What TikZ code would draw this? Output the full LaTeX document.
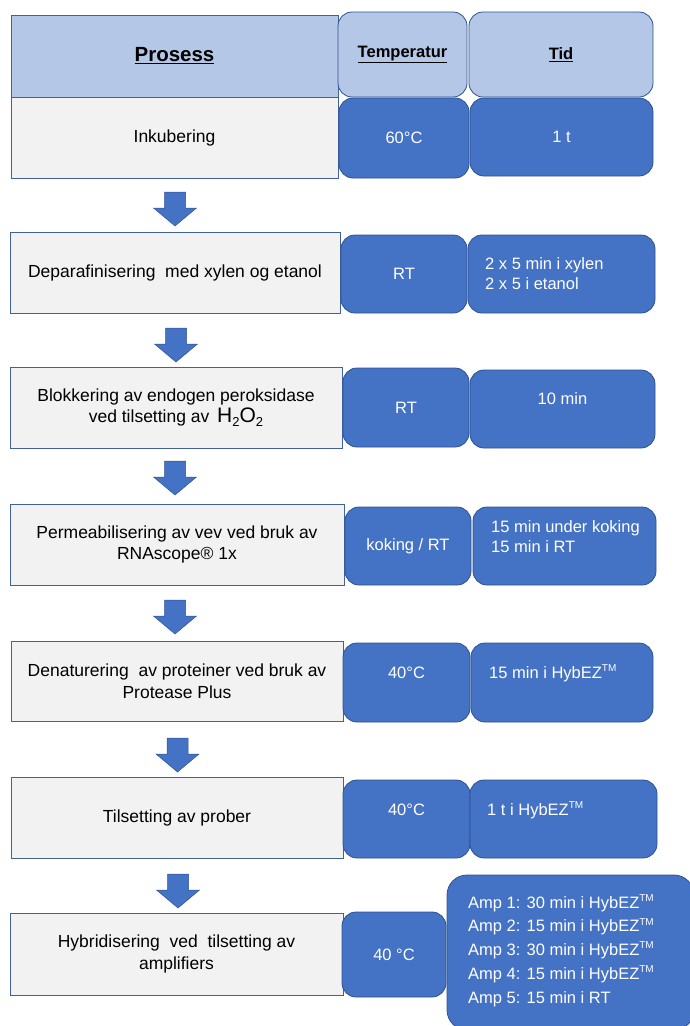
\documentclass[tikz,border=0pt]{standalone}
\usepackage{fontspec}
\setmainfont{Liberation Sans}
\definecolor{blueF}{HTML}{4472C4}
\definecolor{blueB}{HTML}{2F528F}
\definecolor{headF}{HTML}{B4C7E7}
\definecolor{greyF}{HTML}{F2F2F2}
\definecolor{greyB}{HTML}{41619B}
\newcommand{\tmark}{\raisebox{0.75ex}{\fontsize{10}{10}\selectfont TM}}
\newcommand{\subtwo}{\raisebox{-0.35ex}{\fontsize{13}{13}\selectfont 2}}
\begin{document}
\begin{tikzpicture}[x=1pt,y=-1pt,
  box/.style={anchor=north west, inner sep=0pt, outer sep=0pt, line width=0.8pt},
  proc/.style={box, draw=greyB, fill=greyF, align=center, font=\fontsize{17.5}{21.5}\selectfont},
  headproc/.style={box, draw=greyB, fill=headF},
  headrnd/.style={box, draw=blueB, fill=headF, rounded corners=14pt},
  bluebox/.style={box, draw=blueB, fill=blueF, rounded corners=14pt, text=white, font=\fontsize{16.5}{20}\selectfont},
  wtext/.style={text=white, inner sep=0pt, align=left, font=\fontsize{16.5}{20}\selectfont},
  barrow/.pic={\filldraw[fill=blueF, draw=blueB, line width=0.5pt]
     (-10.5,0) -- (10.5,0) -- (10.5,16) -- (21.5,16) -- (0,34) -- (-21.5,16) -- (-10.5,16) -- cycle;}
]
\useasboundingbox (0,0) rectangle (690,1026);
\clip (0,0) rectangle (690,1026);

% header
\node[headproc, minimum width=327, minimum height=82] (hp) at (11,15)
  {\fontsize{20.5}{24}\selectfont\underline{\textbf{Prosess}}};
\node[headrnd, minimum width=129, minimum height=85] (ht) at (338,12)
  {\fontsize{16.5}{20}\selectfont\underline{\textbf{Temperatur}}};
\node[headrnd, minimum width=184, minimum height=85] (hd) at (469,12)
  {\fontsize{16.5}{20}\selectfont\underline{\textbf{Tid}}};

% row 1
\node[proc, minimum width=327, minimum height=81] (p1) at (11,97) {Inkubering};
\node[bluebox, minimum width=130, minimum height=80] (t1) at (339,98) {60°C};
\node[bluebox, minimum width=183, minimum height=78] (d1) at (470,98) {1 t};

% row 2
\node[proc, minimum width=330, minimum height=81] (p2) at (10,232) {Deparafinisering\ \ med xylen og etanol};
\node[bluebox, minimum width=126, minimum height=78] (t2) at (341,235) {RT};
\node[bluebox, minimum width=187, minimum height=78] (d2) at (468,235) {};
\node[wtext, anchor=west] (d2t) at ([xshift=17pt]d2.west) {2 x 5 min i xylen\\2 x 5 i etanol};

% row 3
\node[proc, minimum width=332, minimum height=81] (p3) at (10,367)
  {Blokkering av endogen peroksidase\\ved tilsetting av \,{\fontsize{21}{21}\selectfont H\subtwo O\subtwo}};
\node[bluebox, minimum width=126, minimum height=79] (t3) at (343,368) {RT};
\node[bluebox, minimum width=185, minimum height=78] (d3) at (470,370) {};
\node[wtext, anchor=center] (d3t) at ([yshift=-29pt]d3.north) {10 min};

% row 4
\node[proc, minimum width=334, minimum height=81] (p4) at (10,504)
  {Permeabilisering av vev ved bruk av\\RNAscope® 1x};
\node[bluebox, minimum width=126, minimum height=78] (t4) at (345,507) {koking / RT};
\node[bluebox, minimum width=183, minimum height=78] (d4) at (473,507) {};
\node[wtext, anchor=west] (d4t) at ([xshift=18pt,yshift=9pt]d4.west) {15 min under koking\\15 min i RT};

% row 5
\node[proc, minimum width=332, minimum height=80] (p5) at (11,641)
  {Denaturering\ \ av proteiner ved bruk av\\Protease Plus};
\node[bluebox, minimum width=127, minimum height=79] (t5) at (343,643) {};
\node[wtext, anchor=center] (t5t) at ([yshift=-30pt]t5.north) {40°C};
\node[bluebox, minimum width=182, minimum height=79] (d5) at (471,643) {};
\node[wtext, anchor=west] (d5t) at ([xshift=18pt,yshift=-30pt]d5.north west) {15 min i HybEZ\tmark};

% row 6
\node[proc, minimum width=332, minimum height=81] (p6) at (11,777) {Tilsetting av prober};
\node[bluebox, minimum width=127, minimum height=78] (t6) at (343,780) {};
\node[wtext, anchor=center] (t6t) at ([yshift=-30pt]t6.north) {40°C};
\node[bluebox, minimum width=187, minimum height=78] (d6) at (470,780) {};
\node[wtext, anchor=west] (d6t) at ([xshift=17pt,yshift=-30pt]d6.north west) {1 t i HybEZ\tmark};

% row 7
\node[proc, minimum width=333, minimum height=82] (p7) at (10,913)
  {Hybridisering\ \ ved\ \ tilsetting av\\amplifiers};
\node[bluebox, minimum width=104, minimum height=85] (t7) at (342,912) {40 °C};
\node[bluebox, rounded corners=20pt, minimum width=247, minimum height=155] (d7) at (447,875) {};
\node[wtext, anchor=west, font=\fontsize{16.5}{23.75}\selectfont] (d7t) at (468,950.5)
  {Amp 1: 30 min i HybEZ\tmark\\Amp 2: 15 min i HybEZ\tmark\\Amp 3: 30 min i HybEZ\tmark\\Amp 4: 15 min i HybEZ\tmark\\Amp 5: 15 min i RT};

% arrows
\pic (a1) at (175,192) {barrow};
\pic (a2) at (176,328) {barrow};
\pic (a3) at (175,461) {barrow};
\pic (a4) at (175,600) {barrow};
\pic (a5) at (177.5,738) {barrow};
\pic (a6) at (178,874) {barrow};
\end{tikzpicture}
\end{document}
